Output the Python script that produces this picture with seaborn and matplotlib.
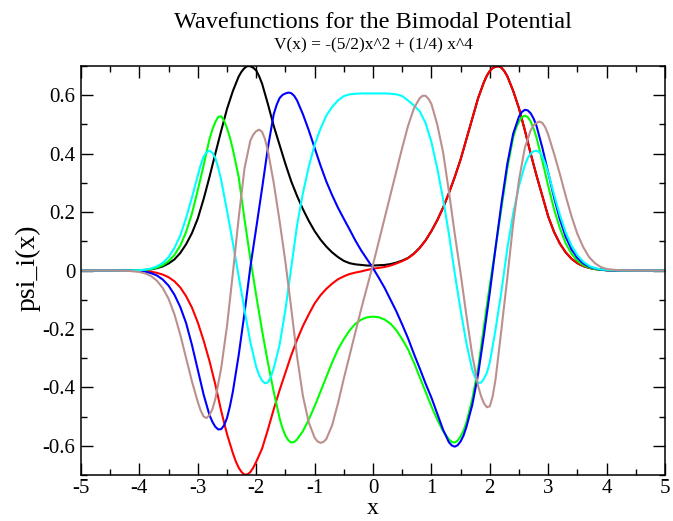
import matplotlib
matplotlib.use("Agg")
import matplotlib.pyplot as plt
import seaborn as sns
import pandas as pd
from matplotlib.ticker import MultipleLocator

# ---------------- data ----------------
x_vals = [-5.0, -4.5, -4.2, -4.0, -3.9, -3.8, -3.7, -3.6, -3.5, -3.4, -3.3, -3.2, -3.1,
          -3.0, -2.9, -2.8, -2.7, -2.6, -2.5, -2.4, -2.3, -2.2, -2.1, -2.0, -1.9, -1.8,
          -1.7, -1.6, -1.5, -1.4, -1.3, -1.2, -1.1, -1.0, -0.9, -0.8, -0.7, -0.6, -0.5,
          -0.4, -0.3, -0.2, -0.1, 0.0, 0.1, 0.2, 0.3, 0.4, 0.5, 0.6, 0.7, 0.8, 0.9, 1.0,
          1.1, 1.2, 1.3, 1.4, 1.5, 1.6, 1.7, 1.8, 1.9, 2.0, 2.1, 2.2, 2.3, 2.4, 2.5, 2.6,
          2.7, 2.8, 2.9, 3.0, 3.1, 3.2, 3.3, 3.4, 3.5, 3.6, 3.7, 3.8, 3.9, 4.0, 4.2, 4.5, 5.0]

psi0_black = [0, 0, 0, 0.001, 0.002, 0.004, 0.008, 0.014, 0.024, 0.038, 0.060, 0.090, 0.128,
              0.178, 0.245, 0.320, 0.400, 0.478, 0.553, 0.614, 0.664, 0.693, 0.699, 0.685, 0.640, 0.570,
              0.495, 0.430, 0.365, 0.305, 0.255, 0.210, 0.170, 0.135, 0.106, 0.082, 0.062, 0.046, 0.033,
              0.025, 0.021, 0.019, 0.017, 0.017, 0.018, 0.019, 0.022, 0.027, 0.034, 0.043, 0.058, 0.078, 0.103, 0.135,
              0.172, 0.215, 0.265, 0.320, 0.380, 0.450, 0.520, 0.590, 0.645, 0.683, 0.698, 0.694, 0.665, 0.615, 0.555, 0.480,
              0.400, 0.325, 0.255, 0.185, 0.132, 0.092, 0.062, 0.040, 0.025, 0.015, 0.009, 0.005, 0.003, 0.001, 0, 0, 0]
psi0_black_extra_x = [-2.25, -2.15, -2.05, -1.95, 1.95, 2.05, 2.15, 2.25]
psi0_black_extra_y = [0.681, 0.700, 0.694, 0.665, 0.667, 0.693, 0.699, 0.682]

psi1_red = [0, 0, 0, -0.001, -0.002, -0.004, -0.008, -0.014, -0.023, -0.037, -0.058, -0.088, -0.127,
            -0.178, -0.240, -0.310, -0.390, -0.480, -0.560, -0.625, -0.675, -0.699, -0.690, -0.655, -0.610, -0.545,
            -0.475, -0.410, -0.350, -0.290, -0.237, -0.190, -0.150, -0.113, -0.085, -0.063, -0.045, -0.030, -0.020,
            -0.012, -0.007, -0.003, 0.002, 0.006, 0.009, 0.012, 0.017, 0.024, 0.032, 0.042, 0.057, 0.077, 0.103, 0.135,
            0.172, 0.215, 0.265, 0.320, 0.380, 0.450, 0.520, 0.590, 0.645, 0.683, 0.698, 0.694, 0.665, 0.615, 0.555, 0.480,
            0.400, 0.325, 0.255, 0.185, 0.132, 0.092, 0.062, 0.040, 0.025, 0.015, 0.009, 0.005, 0.003, 0.001, 0, 0, 0]
psi1_red_extra_x = [-2.35, -2.25, -2.15, -2.05, 1.95, 2.05, 2.15, 2.25]
psi1_red_extra_y = [-0.653, -0.690, -0.698, -0.675, 0.667, 0.693, 0.699, 0.682]

psi2_green = [0, 0, 0, 0.001, 0.002, 0.005, 0.010, 0.018, 0.032, 0.053, 0.085, 0.132, 0.195,
              0.275, 0.360, 0.450, 0.508, 0.528, 0.487, 0.415, 0.320, 0.175, 0.040, -0.085, -0.205, -0.315,
              -0.415, -0.505, -0.565, -0.589, -0.578, -0.550, -0.510, -0.465, -0.415, -0.365, -0.315, -0.270, -0.235,
              -0.205, -0.182, -0.168, -0.160, -0.158, -0.160, -0.168, -0.182, -0.205, -0.235, -0.270, -0.315, -0.365, -0.415, -0.465,
              -0.510, -0.550, -0.578, -0.589, -0.568, -0.520, -0.440, -0.335, -0.190, -0.050, 0.080, 0.215, 0.350, 0.455, 0.510, 0.530,
              0.510, 0.455, 0.375, 0.290, 0.210, 0.145, 0.093, 0.057, 0.033, 0.018, 0.010, 0.005, 0.002, 0.001, 0, 0, 0]
psi2_green_extra_x = [-2.75, -2.65, -2.55, -2.45, -1.55, -1.45, -1.35, 1.35, 1.45, 1.55, 2.45, 2.55, 2.65, 2.75]
psi2_green_extra_y = [0.483, 0.526, 0.513, 0.455, -0.540, -0.581, -0.587, -0.587, -0.582, -0.548, 0.488, 0.525, 0.525, 0.486]

psi3_blue = [0, 0, 0, -0.002, -0.004, -0.009, -0.017, -0.031, -0.052, -0.083, -0.125, -0.180, -0.255,
             -0.340, -0.425, -0.495, -0.535, -0.543, -0.505, -0.415, -0.290, -0.145, 0.012, 0.145, 0.280, 0.420,
             0.535, 0.590, 0.606, 0.607, 0.582, 0.535, 0.480, 0.420, 0.360, 0.305, 0.258, 0.215, 0.177,
             0.140, 0.102, 0.068, 0.038, 0.008, -0.025, -0.060, -0.100, -0.140, -0.185, -0.232, -0.285, -0.335, -0.387, -0.435,
             -0.490, -0.545, -0.588, -0.603, -0.585, -0.535, -0.460, -0.355, -0.220, -0.075, 0.080, 0.230, 0.365, 0.468, 0.527, 0.550,
             0.538, 0.495, 0.420, 0.335, 0.250, 0.175, 0.115, 0.072, 0.043, 0.024, 0.013, 0.007, 0.003, 0.001, 0, 0, 0]
psi3_blue_extra_x = [-2.75, -2.65, -2.55, -2.45, -1.65, -1.55, -1.45, -1.35, 1.35, 1.45, 1.55, 2.55, 2.65, 2.75]
psi3_blue_extra_y = [-0.518, -0.544, -0.530, -0.465, 0.567, 0.601, 0.609, 0.598, -0.599, -0.598, -0.565, 0.543, 0.548, 0.520]

psi4_cyan = [0, 0, 0, 0.001, 0.003, 0.007, 0.014, 0.026, 0.046, 0.077, 0.120, 0.180, 0.250,
             0.325, 0.390, 0.410, 0.385, 0.310, 0.205, 0.095, -0.020, -0.135, -0.245, -0.330, -0.377, -0.383,
             -0.335, -0.255, -0.135, 0.010, 0.155, 0.265, 0.355, 0.430, 0.485, 0.530, 0.560, 0.582, 0.597,
             0.603, 0.605, 0.606, 0.606, 0.606, 0.606, 0.606, 0.605, 0.603, 0.597, 0.582, 0.565, 0.545, 0.505, 0.440,
             0.350, 0.245, 0.125, -0.010, -0.135, -0.250, -0.340, -0.385, -0.370, -0.315, -0.200, -0.070, 0.075, 0.195, 0.290, 0.360,
             0.400, 0.410, 0.390, 0.335, 0.260, 0.190, 0.130, 0.085, 0.052, 0.030, 0.016, 0.008, 0.004, 0.002, 0, 0, 0]
psi4_cyan_extra_x = [-2.95, -2.85, -2.75, -2.65, -1.95, -1.85, -1.75, 1.75, 1.85, 1.95, 2.65, 2.75, 2.85, 2.95]
psi4_cyan_extra_y = [0.362, 0.405, 0.403, 0.352, -0.358, -0.386, -0.365, -0.367, -0.384, -0.350, 0.385, 0.408, 0.405, 0.366]

psi5_brown = [0, 0, -0.001, -0.005, -0.010, -0.019, -0.035, -0.060, -0.097, -0.150, -0.220, -0.300, -0.380,
              -0.450, -0.500, -0.495, -0.440, -0.335, -0.190, -0.010, 0.180, 0.350, 0.445, 0.477, 0.475, 0.410,
              0.300, 0.170, 0.030, -0.130, -0.295, -0.430, -0.520, -0.572, -0.590, -0.577, -0.530, -0.455, -0.370,
              -0.290, -0.210, -0.130, -0.055, 0.020, 0.100, 0.180, 0.260, 0.340, 0.420, 0.495, 0.555, 0.590, 0.598, 0.570,
              0.500, 0.405, 0.270, 0.125, -0.010, -0.155, -0.290, -0.395, -0.455, -0.465, -0.370, -0.200, -0.025, 0.160, 0.310, 0.420,
              0.480, 0.505, 0.505, 0.465, 0.400, 0.330, 0.255, 0.185, 0.125, 0.080, 0.046, 0.025, 0.012, 0.005, 0.001, 0, 0]
psi5_brown_extra_x = [-2.95, -2.85, -2.75, -2.05, -1.95, -1.85, -0.95, -0.85, 0.85, 0.95, 1.85, 1.95, 2.05, 2.75, 2.85, 2.95]
psi5_brown_extra_y = [-0.480, -0.505, -0.475, 0.465, 0.482, 0.450, -0.585, -0.587, 0.598, 0.588, -0.430, -0.468, -0.430, 0.497, 0.510, 0.490]

state_names = ["psi0", "psi1", "psi2", "psi3", "psi4", "psi5"]
state_colors = ["#000000", "#ff0000", "#00ff00", "#0000ff", "#00ffff", "#bc8f8f"]
x_tick_labels = ["-5", "-4", "-3", "-2", "-1", "0", "1", "2", "3", "4", "5"]
y_tick_labels = ["-0.6", "-0.4", "-0.2", "0", "0.2", "0.4", "0.6"]

title_text = "Wavefunctions for the Bimodal Potential"
subtitle_text = "V(x) = -(5/2)x^2 + (1/4) x^4"
xlabel_text = "x"
ylabel_text = "psi_i(x)"

# ---------------- build long table ----------------
series = [
    (psi0_black, psi0_black_extra_x, psi0_black_extra_y),
    (psi1_red, psi1_red_extra_x, psi1_red_extra_y),
    (psi2_green, psi2_green_extra_x, psi2_green_extra_y),
    (psi3_blue, psi3_blue_extra_x, psi3_blue_extra_y),
    (psi4_cyan, psi4_cyan_extra_x, psi4_cyan_extra_y),
    (psi5_brown, psi5_brown_extra_x, psi5_brown_extra_y),
]
frames = []
for name, (vals, ex, ey) in zip(state_names, series):
    part = pd.DataFrame({"x": list(x_vals) + list(ex), "psi": list(vals) + list(ey)})
    part = part.sort_values("x").reset_index(drop=True)
    part["state"] = name
    frames.append(part)
df = pd.concat(frames, ignore_index=True)

# ---------------- style ----------------
sns.set_theme(style="ticks")
plt.rcParams["font.family"] = ["Liberation Serif", "DejaVu Serif"]
plt.rcParams["axes.unicode_minus"] = False
plt.rcParams["text.color"] = "black"

W, H = 673, 521
fig = plt.figure(figsize=(W / 100, H / 100), dpi=100)
ax = fig.add_axes([81 / W, 1 - 475 / H, (665 - 81) / W, (475 - 66) / H])

sns.lineplot(data=df, x="x", y="psi", hue="state", hue_order=state_names,
             palette=dict(zip(state_names, state_colors)), estimator=None, sort=False,
             linewidth=1.5, legend=False, ax=ax)

ax.set_xlim(-5, 5)
ax.set_ylim(-0.7, 0.7)
ax.set_xticks([-5, -4, -3, -2, -1, 0, 1, 2, 3, 4, 5])
ax.set_xticklabels(x_tick_labels)
ax.set_yticks([-0.6, -0.4, -0.2, 0, 0.2, 0.4, 0.6])
ax.set_yticklabels(y_tick_labels)
ax.xaxis.set_minor_locator(MultipleLocator(0.5))
ax.yaxis.set_minor_locator(MultipleLocator(0.1))
ax.tick_params(which="both", direction="in", top=True, right=True, colors="black",
               labelcolor="black", labelsize=15, width=1.0)
ax.tick_params(which="major", length=8.5)
ax.tick_params(which="minor", length=4.3)
ax.tick_params(axis="x", which="major", pad=3)
ax.tick_params(axis="y", which="major", pad=4)
for sp in ax.spines.values():
    sp.set_linewidth(1.1)
    sp.set_color("black")
ax.set_xlabel("")
ax.set_ylabel("")

fig.text(373 / W, 1 - 22 / H, title_text, ha="center", va="center", fontsize=17.5, color="black")
fig.text(373 / W, 1 - 45 / H, subtitle_text, ha="center", va="center", fontsize=12.5, color="black")
fig.text(373 / W, 1 - 514 / H, xlabel_text, ha="center", va="baseline", fontsize=17, color="black")
fig.text(28 / W, 1 - 268 / H, ylabel_text, ha="center", va="center", rotation=90, fontsize=20,
         color="black")

fig.savefig("out.png", dpi=100, facecolor="white")
